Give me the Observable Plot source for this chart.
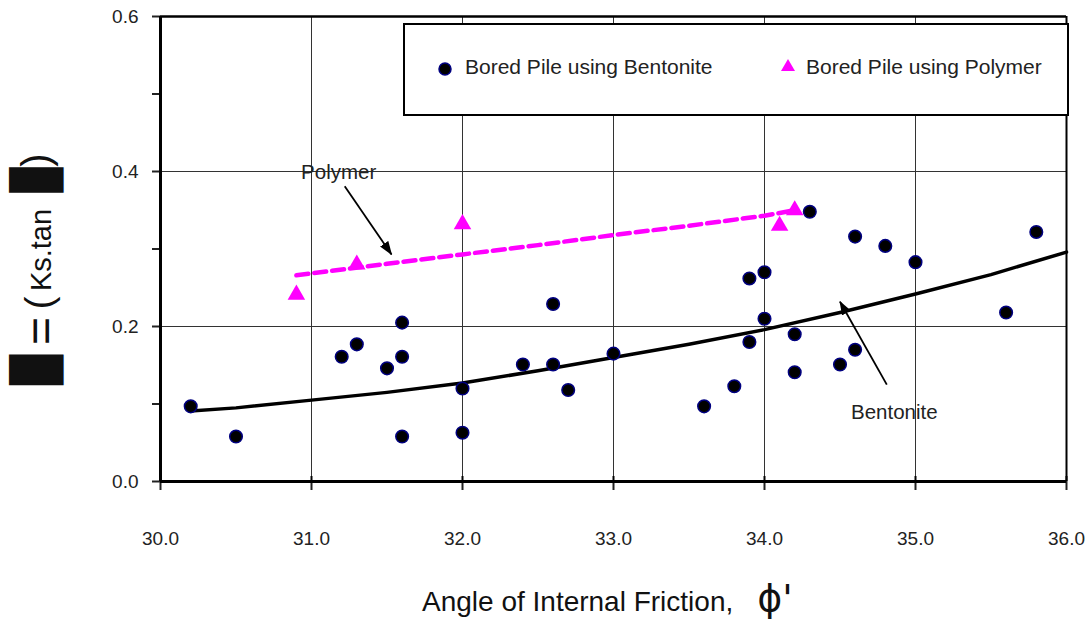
<!DOCTYPE html>
<html>
<head>
<meta charset="utf-8">
<script src="https://cdn.jsdelivr.net/npm/d3@7"></script>
<script src="https://cdn.jsdelivr.net/npm/@observablehq/plot@0.6"></script>
<style>
  body { margin: 0; background: #fff; }
  #wrap { position: relative; width: 1091px; height: 619px; font-family: "Liberation Sans", Arial, sans-serif; }
  #legend { position: absolute; left: 403px; top: 23px; width: 666px; height: 93px; box-sizing: border-box;
            border: 2px solid #000; background: #fff; }
  .item { position: absolute; top: 30px; font-size: 21px; color: #222; white-space: nowrap; }
  .item svg { position: absolute; }
</style>
</head>
<body>
<div id="wrap">
  <div id="chart"></div>
  <div id="legend">
    <div class="item" style="left:32px"><svg width="16" height="16" style="left:0;top:6px"><circle cx="8" cy="8" r="6" fill="#000" stroke="#000080" stroke-width="1.5"/></svg><span style="margin-left:28px">Bored Pile using Bentonite</span></div>
    <div class="item" style="left:375px"><svg width="16" height="16" style="left:0;top:3px"><path d="M8,1L15,13L1,13Z" fill="#ff00ff"/></svg><span style="margin-left:26px">Bored Pile using Polymer</span></div>
  </div>
</div>
<script>
// ---- data ----
const xTicks = [30, 31, 32, 33, 34, 35, 36];
const yTicks = [0, 0.1, 0.2, 0.3, 0.4, 0.5, 0.6];
const yLabelTicks = [0, 0.2, 0.4, 0.6];

const bentonitePhi  = [30.2, 30.5, 31.2, 31.3, 31.5, 31.6, 31.6, 31.6, 32.0, 32.0, 32.4, 32.6, 32.6, 32.7, 33.0, 33.6, 33.8, 33.9, 33.9, 34.0, 34.0, 34.2, 34.2, 34.3, 34.5, 34.6, 34.6, 34.8, 35.0, 35.6, 35.8];
const bentoniteBeta = [0.097, 0.058, 0.161, 0.177, 0.146, 0.205, 0.161, 0.058, 0.120, 0.063, 0.151, 0.229, 0.151, 0.118, 0.165, 0.097, 0.123, 0.262, 0.180, 0.270, 0.210, 0.190, 0.141, 0.348, 0.151, 0.316, 0.170, 0.304, 0.283, 0.218, 0.322];

const polymerPhi  = [30.9, 31.3, 32.0, 34.1, 34.2];
const polymerBeta = [0.241, 0.280, 0.332, 0.330, 0.350];

const bentoniteTrendPhi  = [30.2, 30.5, 31.0, 31.5, 32.0, 32.5, 33.0, 33.5, 34.0, 34.5, 35.0, 35.5, 36.0];
const bentoniteTrendBeta = [0.091, 0.095, 0.105, 0.115, 0.127, 0.143, 0.160, 0.177, 0.196, 0.218, 0.242, 0.267, 0.296];

const polymerTrendPhi  = [30.9, 31.5, 32.0, 32.5, 33.0, 33.5, 34.0, 34.2];
const polymerTrendBeta = [0.266, 0.281, 0.293, 0.305, 0.318, 0.330, 0.343, 0.350];

const annotText = ["Polymer", "Bentonite"];
const annotPhi  = [31.18, 34.86];
const annotBeta = [0.399, 0.089];

const arrowPhi1  = [31.22, 34.81];
const arrowBeta1 = [0.381, 0.125];
const arrowPhi2  = [31.53, 34.50];
const arrowBeta2 = [0.293, 0.232];

// ---- build tables ----
const bentonite = bentonitePhi.map((x, i) => ({x, y: bentoniteBeta[i]}));
const polymer = polymerPhi.map((x, i) => ({x, y: polymerBeta[i]}));
const bTrend = bentoniteTrendPhi.map((x, i) => ({x, y: bentoniteTrendBeta[i]}));
const pTrend = polymerTrendPhi.map((x, i) => ({x, y: polymerTrendBeta[i]}));
const annots = annotText.map((t, i) => ({t, x: annotPhi[i], y: annotBeta[i]}));
const arrows = arrowPhi1.map((x1, i) => ({x1, y1: arrowBeta1[i], x2: arrowPhi2[i], y2: arrowBeta2[i]}));

const chart = Plot.plot({
  width: 1091,
  height: 619,
  marginLeft: 160,
  marginRight: 25,
  marginTop: 16,
  marginBottom: 138,
  style: {fontFamily: "'Liberation Sans', Arial, sans-serif", fontSize: "17px", color: "#222", background: "transparent"},
  x: {type: "linear", domain: [30, 36]},
  y: {type: "linear", domain: [0, 0.6]},
  marks: [
    Plot.gridX(xTicks.slice(1, -1), {stroke: "#333", strokeOpacity: 1, strokeWidth: 1}),
    Plot.gridY([0.2, 0.4], {stroke: "#333", strokeOpacity: 1, strokeWidth: 1}),
    Plot.axisX(xTicks, {tickSize: 9, tickPadding: 41, strokeWidth: 2, fontSize: 19, tickFormat: d => d.toFixed(1), label: null}),
    Plot.ruleX(xTicks, {y1: 0, y2: 0, insetTop: -5, stroke: "#000", strokeWidth: 2}),
    Plot.axisY(yTicks, {tickSize: 8, tickPadding: 14, strokeWidth: 2, fontSize: 19, tickFormat: d => yLabelTicks.includes(d) ? d.toFixed(1) : "", label: null}),
    Plot.ruleY([0.6], {stroke: "#000", strokeWidth: 2.5}),
    Plot.ruleX([36], {stroke: "#000", strokeWidth: 2}),
    Plot.ruleX([30], {stroke: "#000", strokeWidth: 3}),
    Plot.ruleY([0], {stroke: "#000", strokeWidth: 3}),
    Plot.line(bTrend, {x: "x", y: "y", stroke: "#000", strokeWidth: 3.5}),
    Plot.line(pTrend, {x: "x", y: "y", stroke: "#ff00ff", strokeWidth: 4.5, strokeDasharray: "12,6"}),
    Plot.dot(bentonite, {x: "x", y: "y", r: 6.3, fill: "#000", stroke: "#000080", strokeWidth: 1.5}),
    Plot.dot(polymer, {x: "x", y: "y", symbol: "triangle", r: 6.5, fill: "#ff00ff", stroke: "none"}),
    Plot.link(arrows, {x1: "x1", y1: "y1", x2: "x2", y2: "y2", stroke: "#000", strokeWidth: 1.8, className: "annarrow"}),
    Plot.text(annots, {x: "x", y: "y", text: "t", fontSize: 20.5, fill: "#222"})
  ]
});
document.getElementById("chart").appendChild(chart);

const svg = d3.select(chart);
svg.selectAll("g[aria-label='x-axis tick label'], g[aria-label='y-axis tick label']")
  .attr("font-size", 19)
  .selectAll("text").attr("font-size", 19);

// Filled arrow heads
const defs = svg.append("defs");
defs.append("marker")
  .attr("id", "headfill")
  .attr("viewBox", "0 -5 14 10")
  .attr("refX", 13).attr("refY", 0)
  .attr("markerUnits", "userSpaceOnUse")
  .attr("markerWidth", 14).attr("markerHeight", 10)
  .attr("orient", "auto")
  .append("path").attr("d", "M0,-5L14,0L0,5Z").attr("fill", "#000");
svg.selectAll("g.annarrow path, g.annarrow line").attr("marker-end", "url(#headfill)");

// X axis title
const xt = svg.append("text")
  .attr("x", 422).attr("y", 611)
  .attr("text-anchor", "start")
  .attr("font-family", "'Liberation Sans', Arial, sans-serif")
  .attr("fill", "#111");
xt.append("tspan").attr("font-size", 28).text("Angle of Internal Friction,");
xt.append("tspan").attr("font-size", 38).attr("dx", 24).attr("font-family", "'DejaVu Sans', sans-serif").text("ϕ'");

// Y axis title (rotated pieces)
const yParts = [
  {t: "█", cy: 370, bx: 52, size: 46, len: 30, font: "'DejaVu Sans', sans-serif"},
  {t: "=", cy: 331, bx: 57, size: 48},
  {t: "(", cy: 303, bx: 52, size: 38},
  {t: "Ks.tan", cy: 250, bx: 51, size: 29},
  {t: "█", cy: 180, bx: 52, size: 46, len: 25, font: "'DejaVu Sans', sans-serif"},
  {t: ")", cy: 160, bx: 50, size: 40}
];
const yg = svg.append("g").attr("fill", "#111");
yParts.forEach(p => {
  const t = yg.append("text")
    .attr("transform", `translate(${p.bx},${p.cy}) rotate(-90)`)
    .attr("text-anchor", "middle")
    .attr("font-family", p.font || "'Liberation Sans', Arial, sans-serif")
    .attr("font-size", p.size)
    .text(p.t);
  if (p.len) t.attr("textLength", p.len).attr("lengthAdjust", "spacingAndGlyphs");
});
</script>
</body>
</html>
